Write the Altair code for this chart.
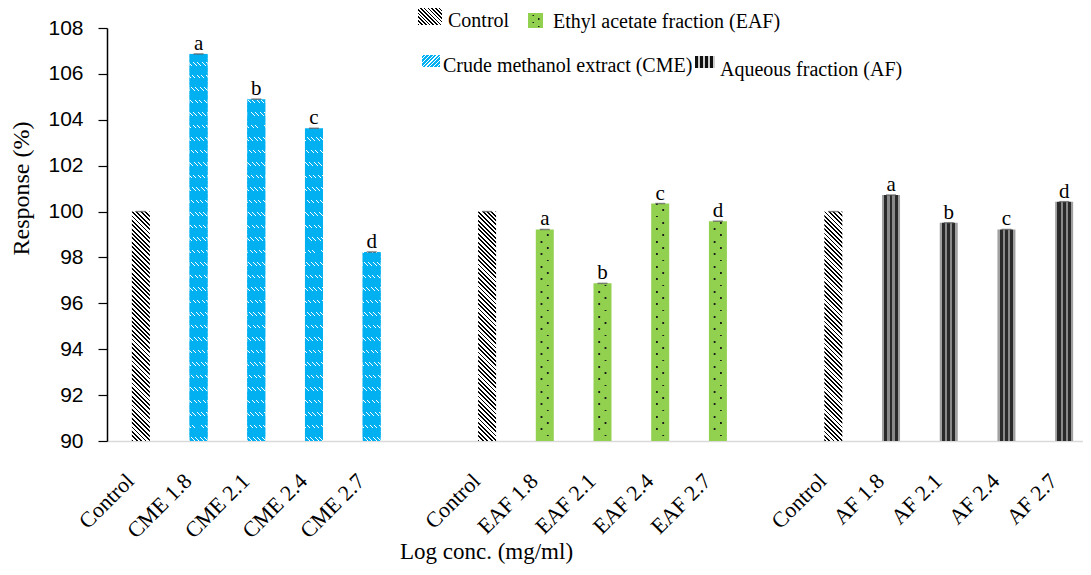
import altair as alt
import pandas as pd

# ---------------- data ----------------
group_names = ["CME", "EAF", "AF"]
cme_labels = ["Control", "CME 1.8", "CME 2.1", "CME 2.4", "CME 2.7"]
cme_values = [100.0, 106.87, 104.90, 103.63, 98.24]
eaf_labels = ["Control", "EAF 1.8", "EAF 2.1", "EAF 2.4", "EAF 2.7"]
eaf_values = [100.0, 99.22, 96.87, 100.35, 99.58]
af_labels = ["Control", "AF 1.8", "AF 2.1", "AF 2.4", "AF 2.7"]
af_values = [100.0, 100.72, 99.51, 99.22, 100.43]
letters = ["", "a", "b", "c", "d"]
y_ticks = [90, 92, 94, 96, 98, 100, 102, 104, 106, 108]
legend_labels = ["Control", "Ethyl acetate fraction (EAF)",
                 "Crude methanol extract (CME)", "Aqueous fraction (AF)"]

# ---------------- table ----------------
rows = []
all_labels = []
for g, (labs, vals) in enumerate([(cme_labels, cme_values),
                                  (eaf_labels, eaf_values),
                                  (af_labels, af_values)]):
    for i, (lab, v) in enumerate(zip(labs, vals)):
        rows.append({"pos": g * 6 + i, "label": lab, "value": v,
                     "kind": "Control" if i == 0 else group_names[g],
                     "letter": letters[i]})
        all_labels.append(lab)
    if g < 2:
        all_labels.append("")
df = pd.DataFrame(rows)

# ---------------- styling helpers ----------------
SERIF = "Liberation Serif, Times New Roman, serif"
SANS = "Liberation Sans, Arial, sans-serif"
W, H = 976, 413
BAR = 18
BLUE, GREEN = "#00B0F0", "#92D050"
CLEAR_W = "rgba(255,255,255,0)"
CLEAR = "rgba(0,0,0,0)"


def periodic_stops(n, duty, on, off, phase=0.0):
    def col(o):
        f = (o * n - phase) % 1.0
        return on if f < duty else off
    st = [(0.0, col(0.0))]
    for k in range(-1, n + 2):
        s = (k + phase) / n
        e = (k + phase + duty) / n
        for o, c in ((s, off), (s, on), (e, on), (e, off)):
            if 0.0 < o < 1.0:
                st.append((o, c))
    st.append((1.0, col(1.0 - 1e-9)))
    return [alt.GradientStop(offset=round(o, 5), color=c) for o, c in st]


def diag_grad(w, h, period, duty, on, off, slope="down"):
    a = w * (w + h) / (w * w + h * h)
    n = max(1, round((w + h) / period))
    if slope == "down":
        x1, y1, x2, y2 = 0, 1, a, 1 - a * h / w
    else:
        x1, y1, x2, y2 = 0, 0, a, a * h / w
    return alt.LinearGradient(gradient="linear",
                              stops=periodic_stops(n, duty, on, off),
                              x1=x1, y1=y1, x2=x2, y2=y2)


def band_grad(n, duty, on, off, vertical=True, phase=0.0):
    if vertical:
        x1, y1, x2, y2 = 0, 0, 0, 1
    else:
        x1, y1, x2, y2 = 0, 0, 1, 0
    return alt.LinearGradient(gradient="linear",
                              stops=periodic_stops(n, duty, on, off, phase),
                              x1=x1, y1=y1, x2=x2, y2=y2)


def multi_band(colors, widths):
    st, acc = [], 0.0
    for c, wd in zip(colors, widths):
        st.append(alt.GradientStop(offset=round(acc, 5), color=c))
        acc += wd
        st.append(alt.GradientStop(offset=round(min(acc, 1.0), 5), color=c))
    return alt.LinearGradient(gradient="linear", stops=st, x1=0, y1=0, x2=1, y2=0)


# ---------------- scales / axes ----------------
label_expr = "[" + ",".join("'" + s + "'" for s in all_labels) + "][datum.value]"
x_enc = alt.X(
    "pos:Q",
    scale=alt.Scale(domain=[-0.5, 16.24], nice=False, zero=False),
    axis=alt.Axis(
        values=list(df["pos"]), labelExpr=label_expr, title="Log conc. (mg/ml)",
        grid=False, ticks=False, domainColor="#d9d9d9", domainWidth=1.5,
        labelAngle=315, labelAlign="right", labelBaseline="middle",
        labelPadding=36, labelOffset=-11, labelFont=SERIF, labelFontSize=22,
        labelColor="black", labelOverlap=False, labelBound=False, labelFlush=False,
        titleFont=SERIF, titleFontSize=23, titleFontWeight="normal",
        titleColor="black", titleX=379, titleY=110, titleAlign="center",
        titleBaseline="middle"),
)
y_scale = alt.Scale(domain=[90, 108], nice=False, zero=False)
y_axis = alt.Axis(
    values=y_ticks, title="Response (%)", grid=False, domainColor="black",
    domainWidth=1.5, tickColor="black", tickSize=9, tickWidth=1.2,
    labelFont=SANS, labelFontSize=21, labelColor="black", labelPadding=15,
    titleFont=SERIF, titleFontSize=24, titleFontWeight="normal",
    titleColor="black", titleX=-86, titleY=160, titleAngle=270,
    titleAlign="center", titleBaseline="middle")
y_full = alt.Y(datum=108, type="quantitative", scale=y_scale, axis=y_axis)
y2_full = alt.Y2(datum=90)
y_val = alt.Y("value:Q", scale=y_scale, axis=y_axis)

ctrl = df[df["kind"] == "Control"]
cme = df[df["kind"] == "CME"]
eaf = df[df["kind"] == "EAF"]
af = df[df["kind"] == "AF"]
masked = df[df["kind"] != "AF"]

layers = []
# control hatch
layers.append(alt.Chart(ctrl).mark_bar(size=BAR, fill=diag_grad(BAR, H, 4.4, 0.42, "#000000", "#ffffff"))
              .encode(x=x_enc, y=y_full, y2=y2_full))
# CME
layers.append(alt.Chart(cme).mark_bar(size=BAR, fill=BLUE).encode(x=x_enc, y=y_full, y2=y2_full))
layers.append(alt.Chart(cme).mark_bar(size=BAR, fill=diag_grad(BAR, H, 4.5, 0.22, "#ffffff", CLEAR_W))
              .encode(x=x_enc, y=y_full, y2=y2_full))
layers.append(alt.Chart(cme).mark_bar(size=BAR, fill=band_grad(round(H / 12.5), 0.72, BLUE, "rgba(0,176,240,0)"))
              .encode(x=x_enc, y=y_full, y2=y2_full))
# EAF
layers.append(alt.Chart(eaf).mark_bar(size=BAR, fill=GREEN).encode(x=x_enc, y=y_full, y2=y2_full))
layers.append(alt.Chart(eaf).mark_bar(size=1.8, xOffset=-3.3, fill=band_grad(round(H / 12.6), 0.14, "#1a1a1a", CLEAR))
              .encode(x=x_enc, y=y_full, y2=y2_full))
layers.append(alt.Chart(eaf).mark_bar(size=1.8, xOffset=3.0, fill=band_grad(round(H / 12.6), 0.14, "#1a1a1a", CLEAR, phase=0.5))
              .encode(x=x_enc, y=y_full, y2=y2_full))
# white masks above value
layers.append(alt.Chart(masked).mark_bar(size=BAR + 2, fill="white")
              .encode(x=x_enc, y=y_val, y2=alt.Y2(datum=108)))
# AF vertical stripes
af_fill = multi_band(["#a0a0a0", "#2a2a2a", "#8a8a8a", "#2a2a2a", "#8a8a8a", "#2a2a2a", "#a0a0a0"],
                     [0.13, 0.17, 0.12, 0.16, 0.12, 0.17, 0.13])
layers.append(alt.Chart(af).mark_bar(size=BAR, fill=af_fill)
              .encode(x=x_enc, y=y_val, y2=alt.Y2(datum=90)))
# small error caps
layers.append(alt.Chart(df).mark_tick(orient="horizontal", size=10, thickness=1.5, color="#595959")
              .encode(x=x_enc, y=y_val))
# letters
layers.append(alt.Chart(df[df["letter"] != ""]).mark_text(
    baseline="alphabetic", dy=-4, font=SERIF, fontSize=21, color="black")
    .encode(x=x_enc, y=y_val, text="letter:N"))

# ---------------- legend (page coords -> plot coords) ----------------
OX, OY = 107, 28
one = alt.Data(values=[{"k": 0}])


def sw(x0, y0, x1, y1, fill):
    return alt.Chart(one).mark_rect(fill=fill).encode(
        x=alt.value(x0 - OX), x2=alt.value(x1 - OX),
        y=alt.value(y0 - OY), y2=alt.value(y1 - OY))


def lt(x, y, text):
    return alt.Chart(one).mark_text(align="left", baseline="alphabetic", font=SERIF,
                                    fontSize=20, color="black").encode(
        x=alt.value(x - OX), y=alt.value(y - OY), text=alt.value(text))


layers.append(sw(418, 8, 442, 25, diag_grad(24, 17, 3.6, 0.42, "#000000", "#ffffff")))
layers.append(lt(448, 27, legend_labels[0]))
layers.append(sw(528, 13, 543, 28, GREEN))
layers.append(sw(532.5, 13, 534, 28, band_grad(2, 0.18, "#1a1a1a", CLEAR, phase=0.2)))
layers.append(sw(538, 13, 539.5, 28, band_grad(2, 0.18, "#1a1a1a", CLEAR, phase=0.7)))
layers.append(lt(553, 28, legend_labels[1]))
layers.append(sw(422, 55, 440, 67, BLUE))
layers.append(sw(422, 55, 440, 67, diag_grad(18, 12, 4.0, 0.3, "#ffffff", CLEAR_W, slope="up")))
layers.append(lt(443, 72, legend_labels[2]))
layers.append(sw(695, 56, 715, 68, band_grad(4, 0.6, "#111111", "#cfcfcf", vertical=False)))
layers.append(lt(720, 76, legend_labels[3]))

chart = alt.layer(*layers).properties(
    width=W, height=H,
    autosize=alt.AutoSizeParams(type="none"),
    padding={"left": 99, "top": 20, "right": 0, "bottom": 126},
    background="white",
).configure_view(stroke=None)

chart.save("out.html", embed_options={"renderer": "svg", "actions": False})
